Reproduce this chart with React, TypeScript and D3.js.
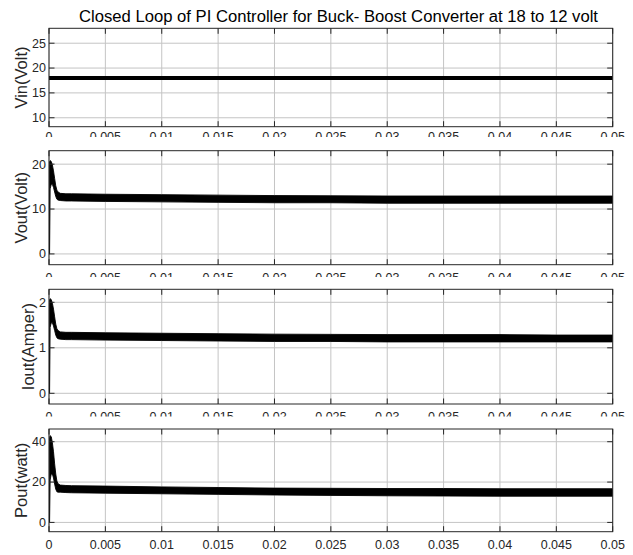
import React from 'react';
import * as d3 from 'd3';

// ---------- DATA ----------
const TITLE = 'Closed Loop of PI Controller for Buck- Boost Converter at 18 to 12 volt';

const xTicks = [0, 0.005, 0.01, 0.015, 0.02, 0.025, 0.03, 0.035, 0.04, 0.045, 0.05];
const xTickLabels = ['0', '0.005', '0.01', '0.015', '0.02', '0.025', '0.03', '0.035', '0.04', '0.045', '0.05'];

const yLabels = ['Vin(Volt)', 'Vout(Volt)', 'Iout(Amper)', 'Pout(watt)'];
const yTicksVin = [10, 15, 20, 25];
const yTicksVout = [0, 10, 20];
const yTicksIout = [0, 1, 2];
const yTicksPout = [0, 20, 40];
const yDomainVin = [8.2, 28];
const yDomainVout = [-2.4, 23];
const yDomainIout = [-0.235, 2.286];
const yDomainPout = [-4.6, 46.3];

// Vin: constant supply
const timeVin = [0, 0.05];
const vin = [18, 18];

// Ripple envelopes (min / max) of the switching waveforms
const timeEnv = [0, 0.00005, 0.0001, 0.0002, 0.0003, 0.0004, 0.0005, 0.0006, 0.0007, 0.0008, 0.001, 0.0015, 0.002, 0.005, 0.01, 0.015, 0.02, 0.025, 0.03, 0.035, 0.04, 0.045, 0.05];
const voutUpper = [0, 20.5, 20.8, 20.6, 19.8, 18.5, 16.8, 15.2, 14.2, 13.8, 13.5, 13.4, 13.4, 13.3, 13.2, 13.1, 13.0, 12.95, 12.9, 12.9, 12.9, 12.9, 12.9];
const voutLower = [0, 0, 14.5, 15.5, 15.5, 14.8, 13.8, 12.8, 12.2, 12.0, 11.9, 11.8, 11.8, 11.7, 11.6, 11.5, 11.4, 11.4, 11.3, 11.3, 11.3, 11.3, 11.3];
const ioutUpper = [0, 2.05, 2.08, 2.06, 1.98, 1.85, 1.68, 1.52, 1.42, 1.38, 1.35, 1.34, 1.34, 1.33, 1.32, 1.31, 1.30, 1.295, 1.29, 1.29, 1.29, 1.28, 1.28];
const ioutLower = [0, 0, 1.45, 1.55, 1.55, 1.48, 1.38, 1.28, 1.22, 1.20, 1.19, 1.18, 1.18, 1.17, 1.16, 1.15, 1.14, 1.14, 1.13, 1.13, 1.13, 1.13, 1.13];
const poutUpper = [0, 42, 43, 42.5, 39.5, 35, 29, 24, 20.5, 19.2, 18.5, 18.3, 18.2, 18.0, 17.6, 17.3, 17.0, 16.9, 16.8, 16.8, 16.7, 16.7, 16.7];
const poutLower = [0, 0, 21, 24, 24, 22, 19, 16.5, 15.2, 15.0, 15.0, 14.8, 14.7, 14.5, 14.2, 13.9, 13.6, 13.4, 13.2, 13.1, 13.0, 13.0, 13.0];

// ---------- LAYOUT ----------
const W = 633;
const H = 555;
const LEFT = 49;
const RIGHT = 612.7;
const FONT = '"Liberation Sans", Arial, Helvetica, sans-serif';
const TICK_FS = 12.5;
const LABEL_FS = 16.5;
const TICK_LEN = 5.5;
const AX_COLOR = '#262626';
const GRID_COLOR = '#c4c4c4';

const panels = [
  { top: 28.3, bottom: 126.7, labTop: 131.7, clip: 137, ticks: yTicksVin, domain: yDomainVin, label: yLabels[0] },
  { top: 150.7, bottom: 264.7, labTop: 272.8, clip: 277, ticks: yTicksVout, domain: yDomainVout, label: yLabels[1] },
  { top: 289.3, bottom: 404, labTop: 412.3, clip: 416.5, ticks: yTicksIout, domain: yDomainIout, label: yLabels[2] },
  { top: 429, bottom: 531.7, labTop: 540, clip: null as number | null, ticks: yTicksPout, domain: yDomainPout, label: yLabels[3] },
];

const envUpper = [null, voutUpper, ioutUpper, poutUpper];
const envLower = [null, voutLower, ioutLower, poutLower];

export default function App() {
  const x = d3.scaleLinear().domain([0, 0.05]).range([LEFT, RIGHT]);

  return (
    <svg width={W} height={H} style={{ position: 'absolute', left: 0, top: 0, background: '#fff' }} fontFamily={FONT}>
      <rect x={0} y={0} width={W} height={H} fill="#fff" />
      <defs>
        {panels.map((p, i) => (
          <clipPath id={`plot${i}`} key={`c${i}`}>
            <rect x={LEFT} y={p.top} width={RIGHT - LEFT} height={p.bottom - p.top} />
          </clipPath>
        ))}
        {panels.map((p, i) =>
          p.clip !== null ? (
            <clipPath id={`lab${i}`} key={`l${i}`}>
              <rect x={0} y={p.bottom} width={W} height={(p.clip as number) - p.bottom} />
            </clipPath>
          ) : null
        )}
      </defs>
      <text x={338.5} y={21.7} textAnchor="middle" fontSize={15.8} fill="#000" textLength={519} lengthAdjust="spacingAndGlyphs">
        {TITLE}
      </text>
      {panels.map((p, i) => {
        const y = d3.scaleLinear().domain(p.domain).range([p.bottom, p.top]);
        const maxLen = d3.max(p.ticks, (t) => String(t).length) as number;
        const tickLabelLeft = LEFT - 3 - maxLen * 0.556 * TICK_FS;
        const ylabX = tickLabelLeft - 2 - 0.21 * LABEL_FS;
        const yc = (p.top + p.bottom) / 2;
        let dataEl: React.ReactNode = null;
        if (i === 0) {
          const line = d3
            .line<number>()
            .x((_, k) => x(timeVin[k]))
            .y((v) => y(v));
          dataEl = <path d={line(vin) || ''} fill="none" stroke="#000" strokeWidth={4} />;
        } else {
          const up = envUpper[i] as number[];
          const lo = envLower[i] as number[];
          const area = d3
            .area<number>()
            .x((t) => x(t))
            .y0((_, k) => y(lo[k]))
            .y1((_, k) => y(up[k]));
          dataEl = (
            <path d={area(timeEnv) || ''} fill="#000" stroke="#000" strokeWidth={0.9} strokeLinejoin="round" />
          );
        }
        return (
          <g key={i}>
            <rect x={LEFT} y={p.top} width={RIGHT - LEFT} height={p.bottom - p.top} fill="#fff" />
            {xTicks.map((t, k) => (
              <line key={`gx${k}`} x1={x(t)} x2={x(t)} y1={p.top} y2={p.bottom} stroke={GRID_COLOR} strokeWidth={1} />
            ))}
            {p.ticks.map((t, k) => (
              <line key={`gy${k}`} x1={LEFT} x2={RIGHT} y1={y(t)} y2={y(t)} stroke={GRID_COLOR} strokeWidth={1} />
            ))}
            <g clipPath={`url(#plot${i})`}>{dataEl}</g>
            <rect x={LEFT} y={p.top} width={RIGHT - LEFT} height={p.bottom - p.top} fill="none" stroke={AX_COLOR} strokeWidth={1} />
            {xTicks.map((t, k) => (
              <g key={`tx${k}`}>
                <line x1={x(t)} x2={x(t)} y1={p.bottom} y2={p.bottom - TICK_LEN} stroke={AX_COLOR} />
                <line x1={x(t)} x2={x(t)} y1={p.top} y2={p.top + TICK_LEN} stroke={AX_COLOR} />
              </g>
            ))}
            {p.ticks.map((t, k) => (
              <g key={`ty${k}`}>
                <line x1={LEFT} x2={LEFT + TICK_LEN} y1={y(t)} y2={y(t)} stroke={AX_COLOR} />
                <line x1={RIGHT} x2={RIGHT - TICK_LEN} y1={y(t)} y2={y(t)} stroke={AX_COLOR} />
                <text x={LEFT - 3} y={y(t)} dy="0.35em" textAnchor="end" fontSize={TICK_FS} fill={AX_COLOR}>
                  {String(t)}
                </text>
              </g>
            ))}
            <g clipPath={p.clip !== null ? `url(#lab${i})` : undefined}>
              {xTicks.map((t, k) => (
                <text key={`lx${k}`} x={x(t)} y={p.labTop + 0.716 * TICK_FS} textAnchor="middle" fontSize={TICK_FS} fill={AX_COLOR}>
                  {xTickLabels[k]}
                </text>
              ))}
            </g>
            <text
              transform={`translate(${ylabX},${yc}) rotate(-90)`}
              textAnchor="middle"
              fontSize={LABEL_FS}
              fill={AX_COLOR}
            >
              {p.label}
            </text>
          </g>
        );
      })}
    </svg>
  );
}
